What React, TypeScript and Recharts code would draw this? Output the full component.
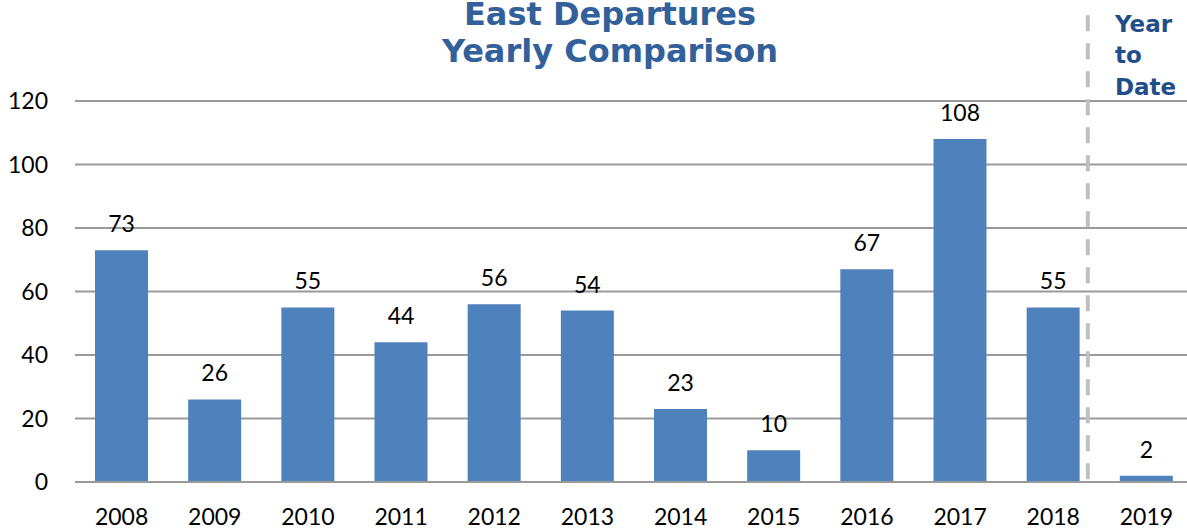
import { Bar, BarChart, CartesianGrid, LabelList, ReferenceLine, XAxis, YAxis } from "recharts";

const years = ["2008", "2009", "2010", "2011", "2012", "2013", "2014", "2015", "2016", "2017", "2018", "2019"];
const departures = [73, 26, 55, 44, 56, 54, 23, 10, 67, 108, 55, 2];
const yTicks = [0, 20, 40, 60, 80, 100, 120];

const data = years.map((year, i) => ({ year, value: departures[i] }));

const tickFont = { fontFamily: "Lato", fontSize: 23, fill: "#000" };

// the YTD divider sits a bit left of the band edge in the original
const DividerLine = (props: any) => {
  const { x1, y1, x2, y2 } = props;
  return (
    <line
      x1={x1 - 12}
      y1={y1}
      x2={x2 - 12}
      y2={y2}
      stroke="#c0c0c0"
      strokeWidth={4}
      strokeDasharray="16 12"
    />
  );
};

export default function App() {
  return (
    <div style={{ position: "absolute", left: 0, top: 0, width: 1187, height: 531, overflow: "hidden" }}>
      <BarChart width={1193} height={531} data={data} margin={{ top: 101, right: 0, bottom: 0, left: 0 }}>
        <CartesianGrid vertical={false} stroke="#9a9a9a" strokeWidth={2} />
        <XAxis
          dataKey="year"
          height={49}
          tickLine={false}
          tickSize={0}
          tickMargin={27}
          axisLine={{ stroke: "#9a9a9a", strokeWidth: 2 }}
          tick={tickFont}
          interval={0}
        />
        <YAxis
          width={75}
          domain={[0, 120]}
          ticks={yTicks}
          axisLine={false}
          tickLine={false}
          tickSize={0}
          tickMargin={27}
          tick={tickFont}
        />
        <ReferenceLine
          segment={[{ x: "2019", y: 147 }, { x: "2019", y: 0 }]}
          position="start"
          ifOverflow="visible"
          shape={DividerLine}
        />
        <Bar dataKey="value" fill="#4f81bd" barSize={53} isAnimationActive={false}>
          <LabelList dataKey="value" position="top" offset={18} style={tickFont} />
        </Bar>
      </BarChart>
      <svg width={1187} height={531} style={{ position: "absolute", left: 0, top: 0, pointerEvents: "none" }}>
        <g fontFamily="DejaVu Sans" fontWeight="bold" fill="#32609a" fontSize={32} textAnchor="middle">
          <text x={610} y={25}>East Departures</text>
          <text x={610} y={62}>Yearly Comparison</text>
        </g>
        <g fontFamily="DejaVu Sans" fontWeight="bold" fill="#1f4e8a" fontSize={23}>
          <text x={1115} y={32}>Year</text>
          <text x={1115} y={63}>to</text>
          <text x={1115} y={95}>Date</text>
        </g>
      </svg>
    </div>
  );
}
